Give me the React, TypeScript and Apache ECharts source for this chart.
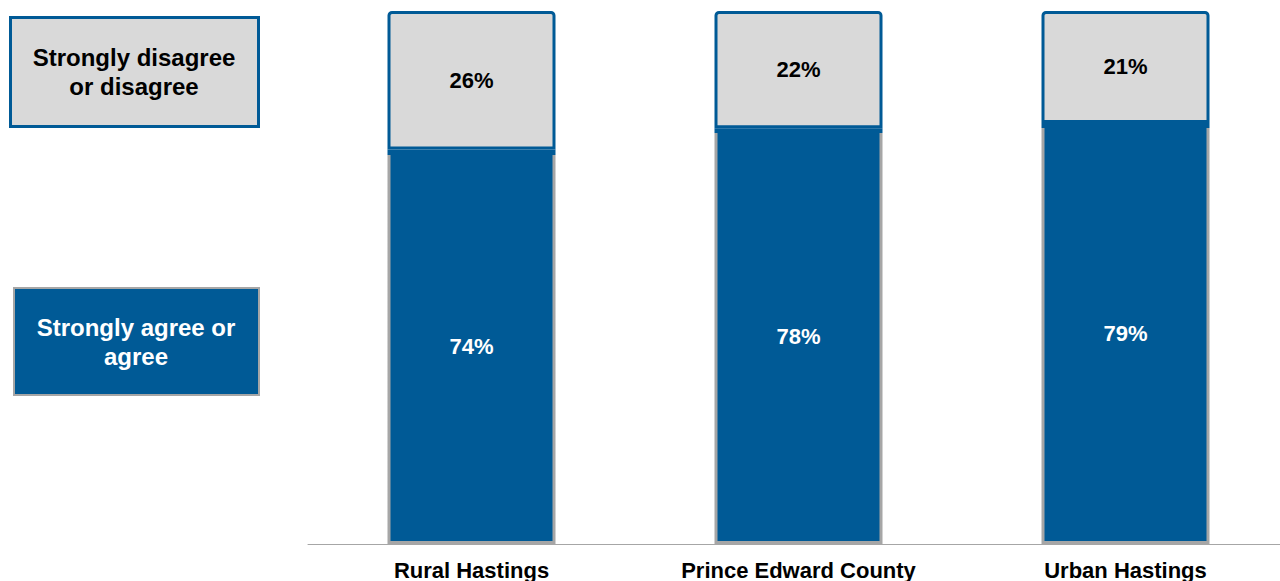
import React, { useEffect, useRef } from "react";
import * as echarts from "echarts";

const categories = ["Rural Hastings", "Prince Edward County", "Urban Hastings"];
const agreeValues = [74, 78, 79];
const disagreeValues = [26, 22, 21];
const legendAgree = "Strongly agree or\nagree";
const legendDisagree = "Strongly disagree\nor disagree";

const BLUE = "#005A96";
const LIGHT = "#D9D9D9";
const GREY_BORDER = "#A6A6A6";
const FONT = "'Liberation Sans', Arial, sans-serif";

export default function App() {
  const ref = useRef<HTMLDivElement>(null);
  useEffect(() => {
    if (!ref.current) return;
    const chart = echarts.init(ref.current, undefined, { renderer: "svg" });
    const blueBorder = {
      type: "linear",
      x: 0,
      y: 0,
      x2: 0,
      y2: 1,
      colorStops: [
        { offset: 0, color: BLUE },
        { offset: 0.009, color: BLUE },
        { offset: 0.009, color: GREY_BORDER },
        { offset: 1, color: GREY_BORDER },
      ],
    };
    chart.setOption({
      animation: false,
      grid: { left: 308, top: 11, bottom: 37, width: 981 },
      xAxis: {
        type: "category",
        data: categories,
        axisLine: { show: true, lineStyle: { color: GREY_BORDER, width: 1 } },
        axisTick: { show: false },
        axisLabel: {
          color: "#000",
          fontFamily: FONT,
          fontWeight: "bold",
          fontSize: 22,
          margin: 15,
        },
      },
      yAxis: { type: "value", min: 0, max: 100, show: false, splitLine: { show: false } },
      series: [
        {
          type: "bar",
          stack: "s",
          barWidth: 168,
          data: agreeValues,
          itemStyle: { color: BLUE, borderColor: blueBorder, borderWidth: 3 },
          label: {
            show: true,
            position: "inside",
            formatter: "{c}%",
            color: "#fff",
            fontFamily: FONT,
            fontWeight: "bold",
            fontSize: 22,
          },
          z: 2,
        },
        {
          type: "bar",
          stack: "s",
          barWidth: 168,
          data: disagreeValues,
          itemStyle: { color: LIGHT, borderColor: BLUE, borderWidth: 3, borderRadius: [3, 3, 0, 0] },
          label: {
            show: true,
            position: "inside",
            formatter: "{c}%",
            color: "#000",
            fontFamily: FONT,
            fontWeight: "bold",
            fontSize: 22,
          },
          z: 3,
        },
      ],
      graphic: [
        {
          type: "group",
          children: [
            {
              type: "rect",
              shape: { x: 10.5, y: 17.5, width: 248, height: 109 },
              style: { fill: LIGHT, stroke: BLUE, lineWidth: 3 },
            },
            {
              type: "text",
              x: 134,
              y: 72,
              style: {
                text: legendDisagree,
                fill: "#000",
                font: `bold 24px ${FONT}`,
                align: "center",
                verticalAlign: "middle",
                lineHeight: 29,
              },
            },
            {
              type: "rect",
              shape: { x: 14, y: 288, width: 245, height: 107 },
              style: { fill: BLUE, stroke: GREY_BORDER, lineWidth: 2 },
            },
            {
              type: "text",
              x: 136,
              y: 342,
              style: {
                text: legendAgree,
                fill: "#fff",
                font: `bold 24px ${FONT}`,
                align: "center",
                verticalAlign: "middle",
                lineHeight: 29,
              },
            },
          ],
        },
      ],
    });
    return () => chart.dispose();
  }, []);
  return (
    <div
      style={{
        position: "fixed",
        left: 0,
        top: 0,
        width: 1280,
        height: 581,
        overflow: "hidden",
        background: "#fff",
      }}
    >
      <div ref={ref} style={{ width: 1300, height: 581 }} />
    </div>
  );
}
